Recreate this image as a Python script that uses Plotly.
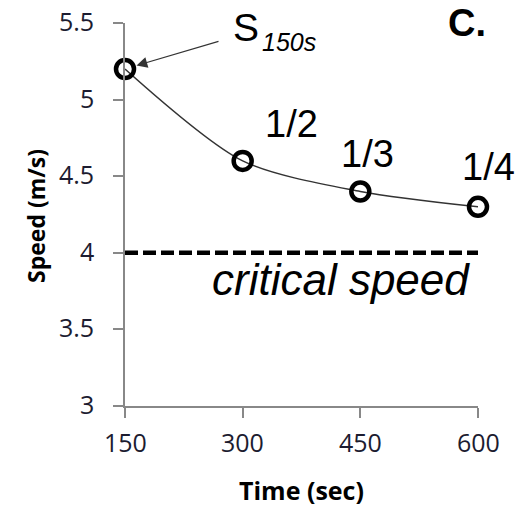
import plotly.graph_objects as go

times = [150, 300, 450, 600]
speeds = [5.2, 4.6, 4.4, 4.3]
fractions = ["1/2", "1/3", "1/4"]
critical_speed = 4.0
x_ticks = [150, 300, 450, 600]
y_ticks = [3, 3.5, 4, 4.5, 5, 5.5]

TICKFONT = "Open Sans, Liberation Sans, sans-serif"
ARIAL = "Liberation Sans, Arial, sans-serif"
TICKCOLOR = "#1c1c30"

# plot area in pixels: left 125, right 478, top 23, bottom 406
L, R, T, B = 125, 478, 23, 406
def px(x):
    return (x - L) / (R - L)
def py(y):
    return (B - y) / (B - T)

fig = go.Figure()
fig.add_trace(go.Scatter(
    x=times, y=speeds, mode="lines",
    line=dict(color="#333333", width=1.5, shape="spline", smoothing=0.8),
    showlegend=False, hoverinfo="skip", cliponaxis=False))
fig.add_trace(go.Scatter(
    x=[times[0], times[-1]], y=[critical_speed, critical_speed], mode="lines",
    line=dict(color="black", width=4.5, dash="13px,5px"),
    showlegend=False, hoverinfo="skip", cliponaxis=False))
fig.add_trace(go.Scatter(
    x=times, y=speeds, mode="markers", cliponaxis=False,
    marker=dict(symbol="circle-open", size=18, color="black", line=dict(width=4.5, color="black")),
    showlegend=False))

# fraction labels (shifts in pixels from the point)
offsets = [(49, 37), (7, 38), (10, 40)]
for t, s, f, (dx, dy) in zip(times[1:], speeds[1:], fractions, offsets):
    fig.add_annotation(x=t, y=s, text=f, showarrow=False, xshift=dx, yshift=dy,
                       font=dict(size=38, color="black", family=ARIAL))

# arrow to the first point
fig.add_annotation(x=times[0], y=speeds[0], ax=95, ay=-28, text="", showarrow=True,
                   arrowhead=2, arrowsize=1.8, arrowwidth=1.2, arrowcolor="#333333", standoff=12)
# S_150s label
fig.add_annotation(xref="paper", yref="paper", x=px(231), y=py(27), text="S", showarrow=False,
                   xanchor="left", yanchor="middle", font=dict(size=39, color="black", family=ARIAL))
fig.add_annotation(xref="paper", yref="paper", x=px(260), y=py(42), text="<i>150s</i>", showarrow=False,
                   xanchor="left", yanchor="middle", font=dict(size=25, color="black", family=ARIAL))
# panel letter
fig.add_annotation(xref="paper", yref="paper", x=px(488), y=py(23), text="<b>C.</b>", showarrow=False,
                   xanchor="right", yanchor="middle", font=dict(size=38, color="black", family=ARIAL))
# critical speed label
fig.add_annotation(xref="paper", yref="paper", x=px(472), y=py(279), text="<i>critical speed</i>",
                   showarrow=False, xanchor="right", yanchor="middle",
                   font=dict(size=44, color="black", family=ARIAL))
# axis titles
fig.add_annotation(xref="paper", yref="paper", x=px(301), y=py(490), text="<b>Time (sec)</b>",
                   showarrow=False, xanchor="center", yanchor="middle",
                   font=dict(size=25, color="black", family=TICKFONT))
fig.add_annotation(xref="paper", yref="paper", x=px(36), y=py(216), text="<b>Speed (m/s)</b>",
                   textangle=-90, showarrow=False, xanchor="center", yanchor="middle",
                   font=dict(size=23, color="black", family=TICKFONT))

# tick labels, placed through the axis scales
for v in y_ticks:
    fig.add_annotation(xref="paper", yref="y", x=px(96), y=v, text=f"{v:g}", showarrow=False,
                       xanchor="right", yanchor="middle", yshift=2,
                       font=dict(size=25, color=TICKCOLOR, family=TICKFONT))
for v in x_ticks:
    fig.add_annotation(xref="x", yref="paper", x=v, y=py(442), text=f"{v:g}", showarrow=False,
                       xanchor="center", yanchor="middle",
                       font=dict(size=25, color=TICKCOLOR, family=TICKFONT))

fig.update_xaxes(range=[150, 600], tickvals=x_ticks, ticks="outside", ticklen=10, tickwidth=1.5,
                 tickcolor="#888888", showline=True, linecolor="#888888", linewidth=1.5,
                 showgrid=False, zeroline=False, showticklabels=False, automargin=False)
fig.update_yaxes(range=[3, 5.5], tickvals=y_ticks, ticks="outside", ticklen=10,
                 tickwidth=1.5, tickcolor="#888888", showline=True, linecolor="#888888", linewidth=1.5,
                 showgrid=False, zeroline=False, showticklabels=False, automargin=False)

fig.update_layout(width=517, height=506, margin=dict(l=L, r=517 - R, t=T, b=506 - B, autoexpand=False),
                  plot_bgcolor="white", paper_bgcolor="white")
fig.write_html("out.html")
